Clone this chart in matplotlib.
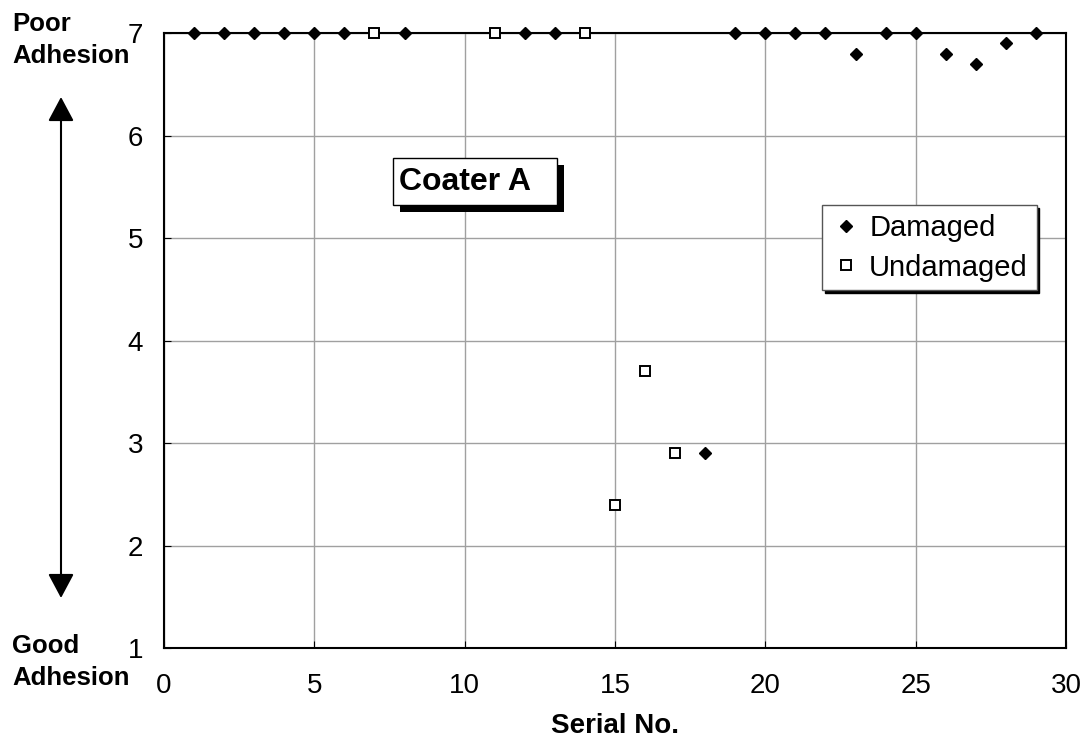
import numpy as np
import matplotlib.pyplot as plt
import matplotlib.patheffects as pe
from matplotlib.patches import FancyArrowPatch, Rectangle

plt.rcParams['font.family'] = ['Liberation Sans', 'DejaVu Sans']

# adhesion rating per serial number
damaged_x = [1, 2, 3, 4, 5, 6, 8, 12, 13, 18, 19, 20, 21, 22, 23, 24, 25, 26, 27, 28, 29]
damaged_y = [7, 7, 7, 7, 7, 7, 7, 7, 7, 2.9, 7, 7, 7, 7, 6.8, 7, 7, 6.8, 6.7, 6.9, 7]
undamaged_x = [7, 11, 14, 15, 16, 17]
undamaged_y = [7, 7, 7, 2.4, 3.7, 2.9]

fig = plt.figure(figsize=(10.86, 7.4), dpi=100)
ax = fig.add_axes([164/1086, 1 - 648/740, (1066-164)/1086, (648-33)/740])

ax.plot(damaged_x, damaged_y, 'D', color='black', markersize=6, label='Damaged',
        clip_on=False, zorder=5)
ax.plot(undamaged_x, undamaged_y, 's', mfc='white', mec='black', mew=1.4, markersize=6.5,
        label='Undamaged', clip_on=False, zorder=5)

ax.set_xlim(0, 30)
ax.set_ylim(1, 7)
ax.set_xticks(np.arange(0, 31, 5))
ax.set_yticks(np.arange(1, 8, 1))
ax.grid(True, color='#a0a0a0', linewidth=1)
ax.set_axisbelow(True)
ax.tick_params(direction='in', length=5, labelsize=20, color='black')
ax.tick_params(axis='y', pad=15)
ax.tick_params(axis='x', pad=18)
for s in ax.spines.values():
    s.set_linewidth(1.5)
    s.set_color('black')

ax.set_xlabel('Serial No.', fontsize=20, fontweight='bold', labelpad=10)

leg = ax.legend(loc='upper left', bbox_to_anchor=(0.730, 0.720), fontsize=21,
                frameon=True, fancybox=False, shadow={'color': 'black', 'alpha': 1},
                handletextpad=0.3, handlelength=1.0, borderpad=0.3, labelspacing=0.4,
                borderaxespad=0)
leg.get_frame().set_edgecolor('#555555')
leg.get_frame().set_linewidth(1)

# title box with drop shadow
title_box = Rectangle((0.2539, 0.7203), 0.1818, 0.0764, transform=ax.transAxes,
                      fc='white', ec='black', lw=1, zorder=6,
                      path_effects=[pe.withSimplePatchShadow(offset=(5, -5), shadow_rgbFace='black', alpha=1)])
ax.add_patch(title_box)
ax.text(0.2605, 0.7570, 'Coater A', transform=ax.transAxes, fontsize=23, fontweight='bold',
        va='center', ha='left', zorder=7)

# adhesion scale beside the y axis
fig.text(12/1086, 1 - 40/740, 'Poor\nAdhesion', fontsize=18.5, fontweight='bold', va='center',
         linespacing=1.45)
fig.text(12/1086, 1 - 662/740, 'Good\nAdhesion', fontsize=18.5, fontweight='bold', va='center',
         linespacing=1.4)
fig.add_artist(FancyArrowPatch(
    (61/1086, 1 - 598/740), (61/1086, 1 - 97/740), transform=fig.transFigure,
    arrowstyle='<|-|>,head_length=0.75,head_width=0.4', mutation_scale=20,
    color='black', lw=1.5, shrinkA=0, shrinkB=0))

fig.savefig('out.png', dpi=100)
